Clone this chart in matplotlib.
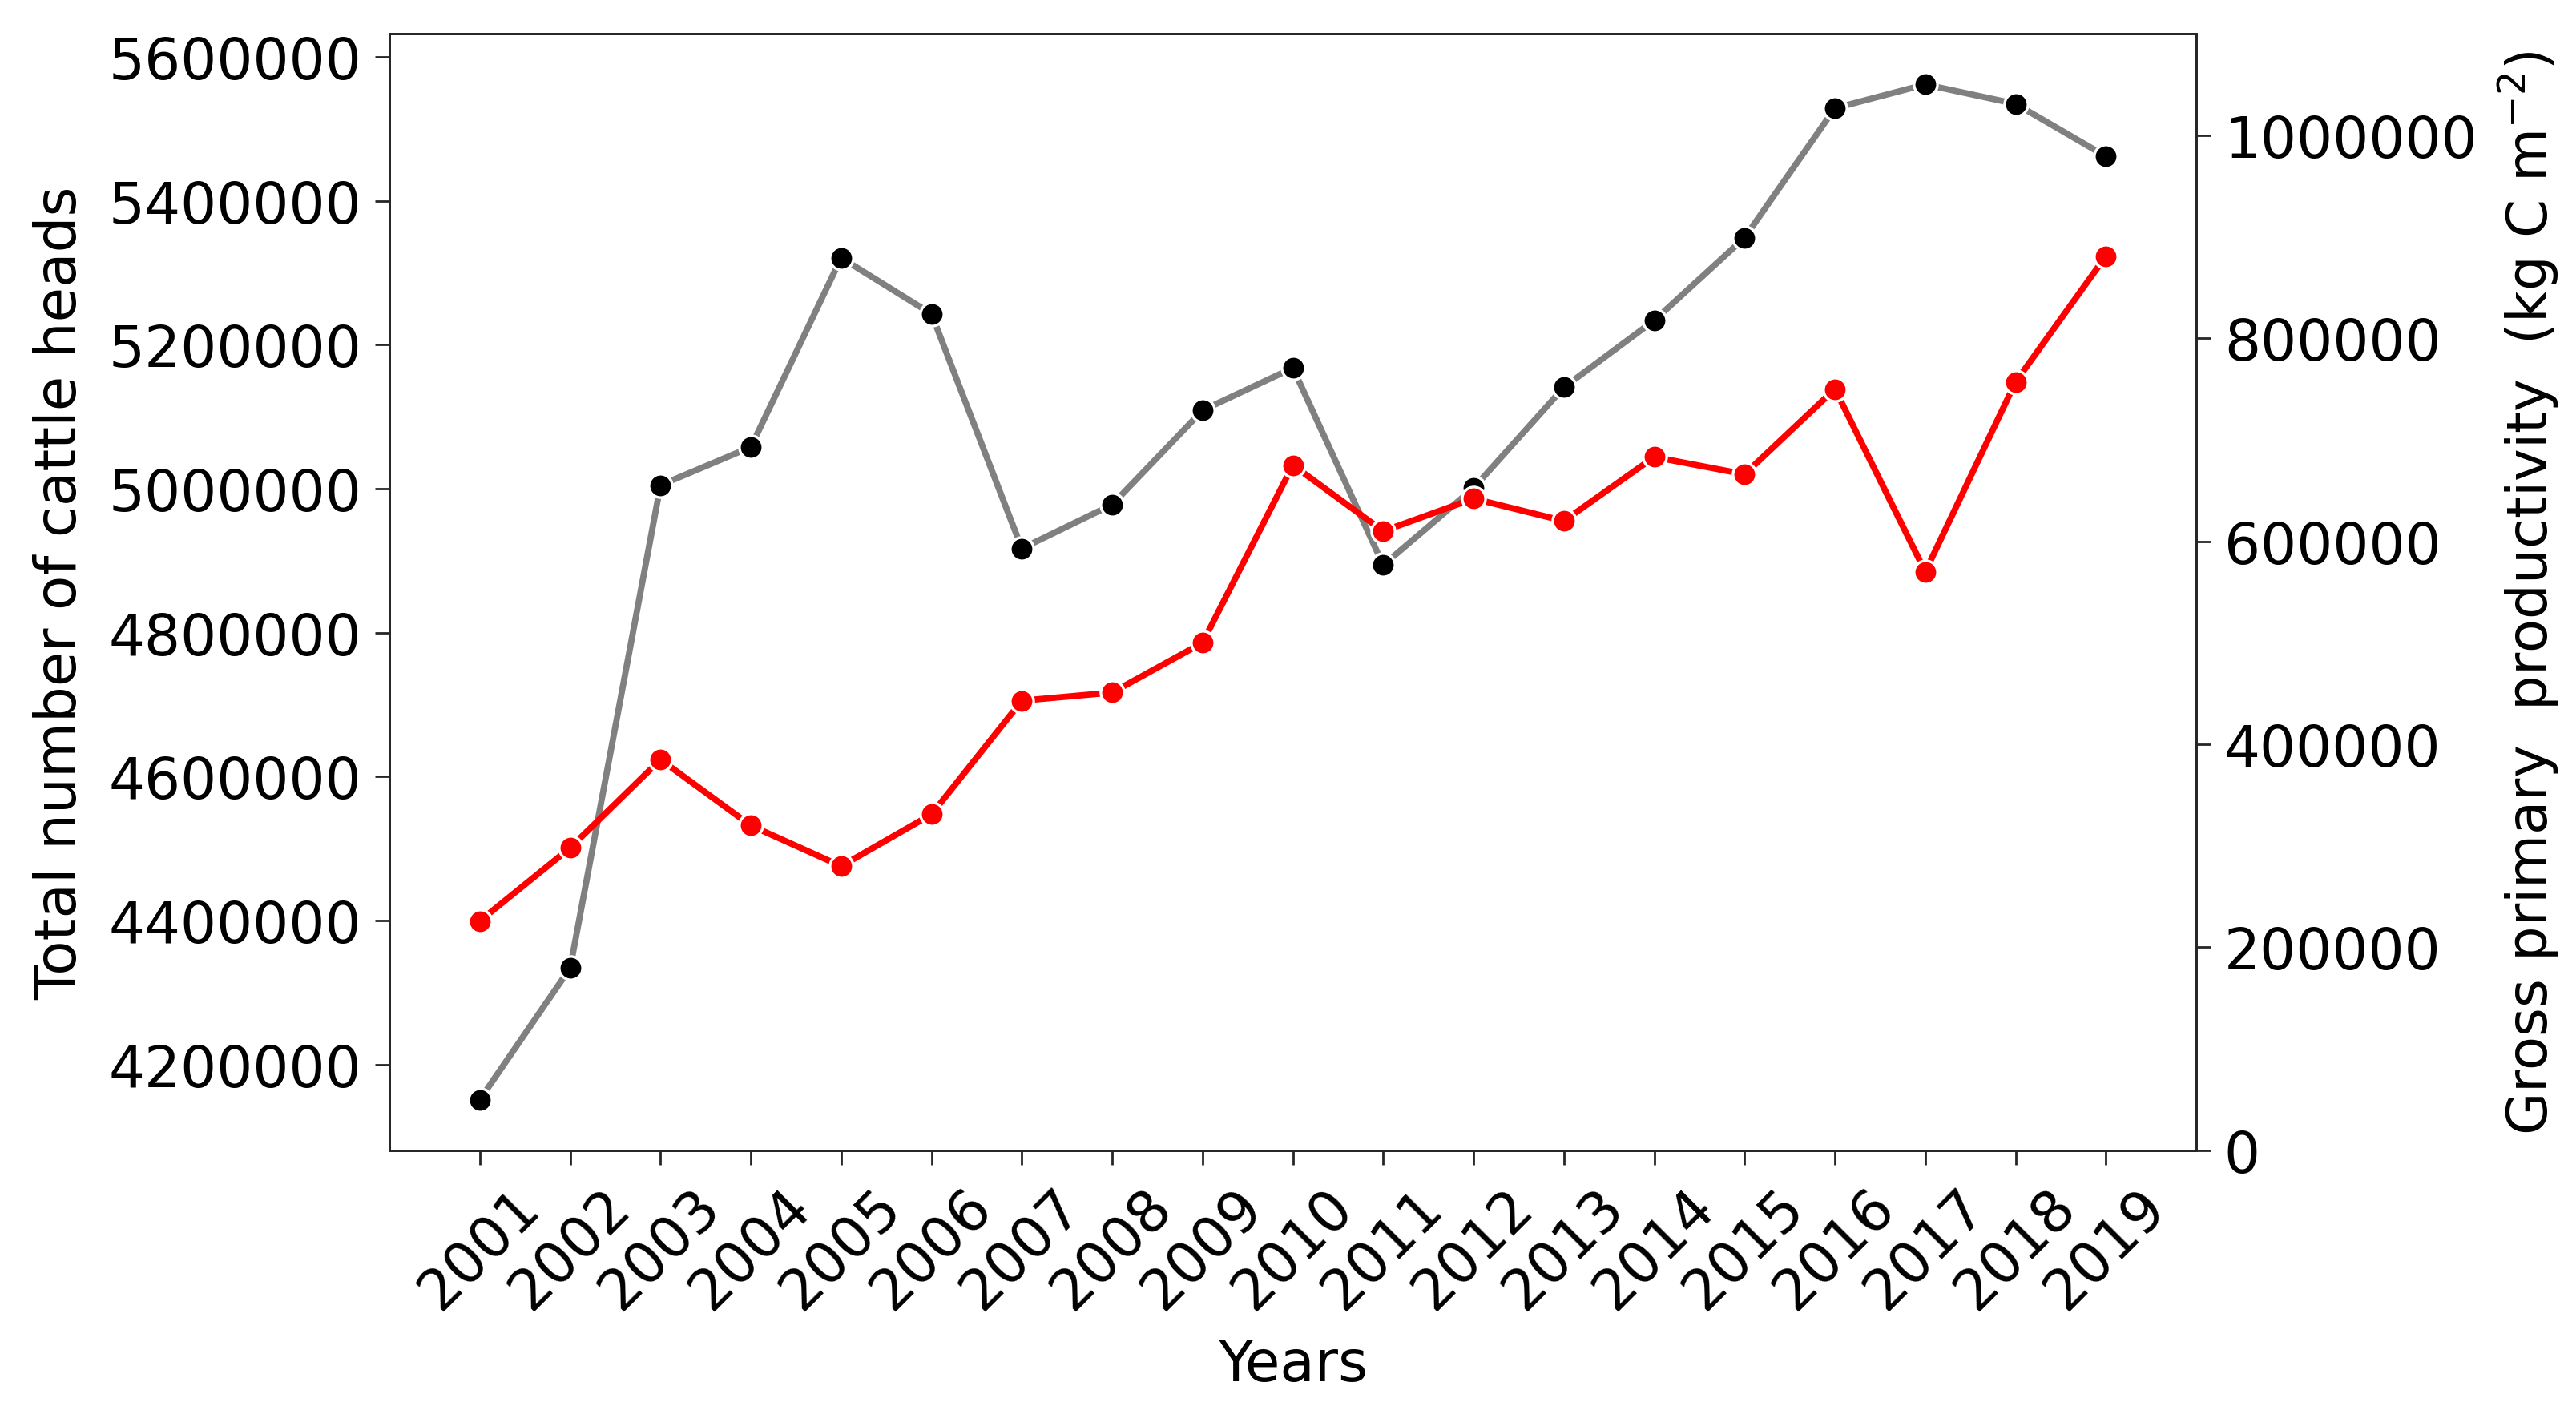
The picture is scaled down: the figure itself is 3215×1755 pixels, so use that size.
import matplotlib.pyplot as plt
import numpy as np
import matplotlib

matplotlib.rcParams['font.family'] = 'DejaVu Sans'

years = [2001, 2002, 2003, 2004, 2005, 2006, 2007, 2008, 2009, 2010,
         2011, 2012, 2013, 2014, 2015, 2016, 2017, 2018, 2019]
cattle = [4151000, 4334000, 5005000, 5058000, 5321000, 5243000, 4917000,
          4978000, 5109000, 5168000, 4894000, 5001000, 5141000, 5234000,
          5349000, 5529000, 5562000, 5535000, 5462000]
gpp = [226000, 298000, 385000, 320000, 280000, 331000, 443000, 451000,
       500000, 675000, 610000, 642000, 620000, 683000, 666000, 750000,
       570000, 757000, 881000]

fs = 25.5
spine_c = '#262626'

fig = plt.figure(figsize=(16.075, 8.78), dpi=200)
ax = fig.add_axes([0.1512, 0.1817, 0.7014, 0.7938])
ax.plot(years, cattle, color='gray', lw=2.8, marker='o', ms=10.5,
        mfc='black', mec='white', mew=1.2)
ax.set_xlim(2000, 2020)
ax.set_xticks(years)
ax.set_xticklabels([str(y) for y in years], rotation=45)
ax.ticklabel_format(axis='y', style='plain', useOffset=False)
ax.set_xlabel('Years', fontsize=fs, labelpad=8)
ax.set_ylabel('Total number of cattle heads', fontsize=fs, labelpad=9)
ax.tick_params(labelsize=fs, length=6.5, width=1, pad=6, color=spine_c)

ax2 = ax.twinx()
ax2.plot(years, gpp, color='red', lw=2.8, marker='o', ms=10.5,
         mfc='red', mec='white', mew=1.2)
ax2.set_ylim(0, 1100000)
ax2.set_yticks(np.arange(0, 1000001, 200000))
ax2.ticklabel_format(axis='y', style='plain', useOffset=False)
ax2.set_ylabel('Gross primary  productivity  (kg C m$^{-2}$)', fontsize=24.8, labelpad=8)
ax2.tick_params(labelsize=fs, length=6.5, width=1, pad=6, color=spine_c)

for a in (ax, ax2):
    for s in a.spines.values():
        s.set_color(spine_c)
        s.set_linewidth(1.0)

fig.savefig('out.png', dpi=200)
